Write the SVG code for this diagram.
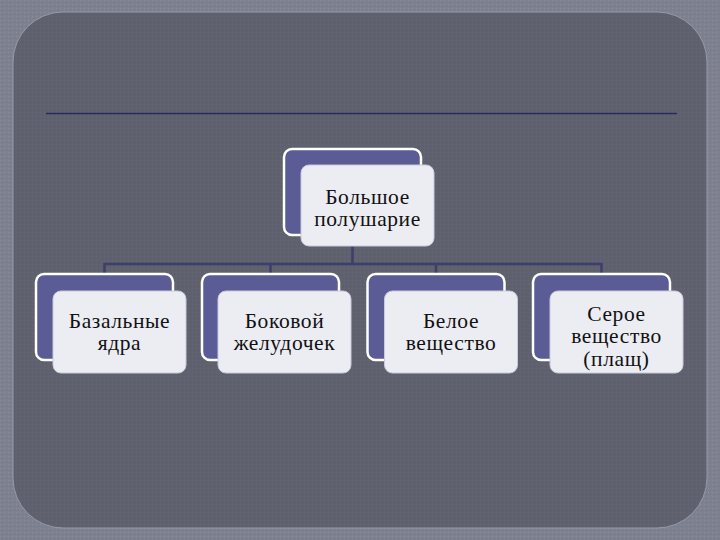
<svg xmlns="http://www.w3.org/2000/svg" width="720" height="540" viewBox="0 0 720 540">
<style>
.back{fill:#5b5c95;stroke:#ffffff;stroke-width:2.5}
.front{fill:#ececf3;stroke:#c9c9dc;stroke-width:1}
.lbl{font-family:"Liberation Serif","DejaVu Serif",serif;font-size:21.5px;letter-spacing:0.6px;fill:#111111;text-anchor:middle}
.conn{stroke:#3c3e6c;stroke-width:2.5;fill:none}
</style>
<defs>
<pattern id="outerTex" width="4" height="4" patternUnits="userSpaceOnUse">
<rect width="4" height="4" fill="#7e818f"/>
<rect width="1" height="1" fill="#8a8d9a"/>
<rect x="2" y="2" width="1" height="1" fill="#737684"/>
</pattern>
<pattern id="innerTex" width="4" height="4" patternUnits="userSpaceOnUse">
<rect width="4" height="4" fill="#5f626e"/>
<rect width="1" height="1" fill="#656874"/>
<rect x="2" y="2" width="1" height="1" fill="#5a5d69"/>
</pattern>
</defs>
<rect x="0" y="0" width="720" height="540" fill="url(#outerTex)"/>
<rect x="13" y="12" width="694" height="516" rx="50" ry="50" fill="url(#innerTex)" stroke="#979aa8" stroke-width="1"/>
<line x1="46" y1="113.5" x2="677" y2="113.5" stroke="#2a2c58" stroke-width="1.5"/>
<g id="connectors">
<path class="conn" d="M352.5 236 V264 M104.5 264 H601.5 M104.5 263 V274 M270.5 263 V274 M436 263 V274 M601.5 263 V274"/>
</g>
<g id="node-top">
<rect class="back" x="284" y="149" width="137" height="86" rx="8"/>
<rect class="front" x="301" y="165" width="133" height="81" rx="8"/>
<text class="lbl" x="367.5" y="203.5">Большое</text>
<text class="lbl" x="367.5" y="226">полушарие</text>
</g>
<g id="node-1">
<rect class="back" x="36" y="274" width="137" height="86" rx="8"/>
<rect class="front" x="53" y="291" width="133" height="82" rx="8"/>
<text class="lbl" x="119.5" y="327.5">Базальные</text>
<text class="lbl" x="119.5" y="350">ядра</text>
</g>
<g id="node-2">
<rect class="back" x="202" y="274" width="137" height="86" rx="8"/>
<rect class="front" x="218" y="291" width="133" height="82" rx="8"/>
<text class="lbl" x="284.5" y="327.5">Боковой</text>
<text class="lbl" x="284.5" y="350">желудочек</text>
</g>
<g id="node-3">
<rect class="back" x="367.5" y="274" width="137" height="86" rx="8"/>
<rect class="front" x="384.5" y="291" width="133" height="82" rx="8"/>
<text class="lbl" x="451" y="327.5">Белое</text>
<text class="lbl" x="451" y="350">вещество</text>
</g>
<g id="node-4">
<rect class="back" x="533" y="274" width="137" height="86" rx="8"/>
<rect class="front" x="550" y="291" width="133" height="82" rx="8"/>
<text class="lbl" x="616.5" y="320.5">Серое</text>
<text class="lbl" x="616.5" y="343">вещество</text>
<text class="lbl" x="616.5" y="365.5">(плащ)</text>
</g>
</svg>
